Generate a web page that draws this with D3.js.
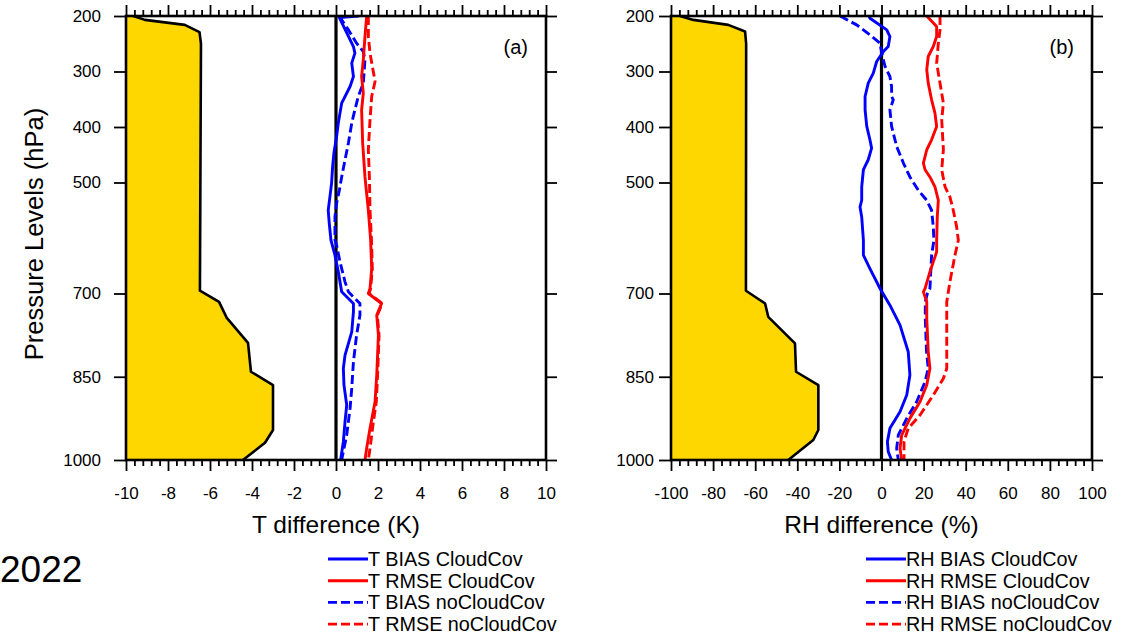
<!DOCTYPE html>
<html>
<head>
<meta charset="utf-8">
<script src="https://cdn.jsdelivr.net/npm/d3@7"></script>
<style>
  html, body { margin: 0; padding: 0; background: #fff; }
  svg { display: block; font-family: "Liberation Sans", Arial, Helvetica, sans-serif; }
</style>
</head>
<body>
<svg id="chart" width="1130" height="634"></svg>
<script>
// Pressure levels shown on the vertical axis (hPa)
const pressureTicks = [200, 300, 400, 500, 700, 850, 1000];

// x-axis tick labels
const tTicks = [-10, -8, -6, -4, -2, 0, 2, 4, 6, 8, 10];
const rhTicks = [-100, -80, -60, -40, -20, 0, 20, 40, 60, 80, 100];

// Shaded profile, [pressure, value]
const shadeT = [[200,-9.65],[207,-9.1],[216,-7.2],[229,-6.5],[250,-6.43],[695,-6.48],[715,-5.57],[744,-5.2],[789,-4.19],[841,-4.05],[865,-3.0],[946,-3.0],[969,-3.38],[1000,-4.43]];
const shadeRH = [[200,-95.7],[207,-89.4],[216,-72.8],[228,-64.8],[250,-64.3],[695,-64.4],[718,-55.3],[742,-53.8],[790,-41.1],[841,-40.6],[865,-30.0],[946,-30.0],[964,-32.4],[1000,-44.3]];

// Temperature statistics (K), [pressure, value]
const tBiasCloud = [[200,1.1],[203,0.16],[255,0.83],[267,0.90],[285,0.75],[309,0.83],[327,0.67],[345,0.43],[357,0.27],[375,0.19],[393,0.11],[417,0.03],[447,-0.10],[471,-0.16],[501,-0.21],[526,-0.29],[550,-0.37],[574,-0.32],[604,-0.24],[631,-0.05],[661,0.11],[697,0.27],[718,0.83],[733,0.83],[769,0.75],[811,0.43],[835,0.35],[865,0.38],[901,0.51],[931,0.43],[967,0.35],[1000,0.22]];
const tRmseCloud = [[200,1.46],[237,1.38],[279,1.30],[309,1.22],[339,1.30],[369,1.22],[429,1.27],[490,1.38],[550,1.54],[604,1.65],[655,1.70],[691,1.62],[700,1.54],[718,2.17],[739,1.94],[775,2.02],[847,1.94],[895,1.86],[943,1.62],[979,1.46],[1000,1.38]];
const tBiasNoCloud = [[200,0.15],[225,0.59],[249,0.98],[264,1.30],[279,1.38],[321,1.30],[345,1.06],[369,0.90],[393,0.75],[429,0.59],[459,0.43],[490,0.27],[514,0.16],[537,0.03],[562,-0.05],[604,-0.05],[613,0.03],[643,0.19],[679,0.43],[697,0.59],[718,1.14],[739,1.14],[775,0.98],[823,0.83],[871,0.75],[907,0.67],[955,0.51],[979,0.38],[1000,0.27]];
const tRmseNoCloud = [[200,1.54],[237,1.54],[267,1.62],[318,1.86],[345,1.70],[387,1.62],[441,1.54],[490,1.59],[550,1.62],[604,1.69],[655,1.73],[691,1.65],[700,1.57],[718,2.20],[739,1.97],[775,2.05],[847,1.98],[895,1.92],[931,1.78],[979,1.62],[1000,1.54]];

// Relative humidity statistics (%), [pressure, value]
const rhBiasCloud = [[200,-6.0],[204,-5.5],[225,2.5],[237,4.0],[255,3.2],[264,0.9],[273,-0.7],[282,-2.3],[303,-3.9],[321,-6.3],[345,-7.8],[369,-7.8],[399,-7.0],[423,-5.5],[438,-4.7],[459,-6.3],[477,-8.6],[508,-9.4],[532,-9.4],[544,-10.2],[562,-9.4],[604,-8.6],[631,-8.6],[655,-5.5],[691,-0.7],[721,4.0],[757,8.8],[805,12.7],[847,13.5],[883,12.0],[913,8.8],[943,4.0],[967,2.8],[985,3.2],[1000,4.8]];
const rhRmseCloud = [[200,21.5],[219,26.2],[237,26.2],[255,24.6],[273,22.2],[297,21.5],[321,22.2],[351,23.8],[375,25.4],[399,26.2],[423,23.8],[441,21.5],[465,19.9],[477,20.7],[490,23.0],[508,25.4],[532,27.0],[562,26.5],[604,26.2],[625,26.2],[661,23.0],[691,20.7],[697,19.9],[715,21.5],[745,21.5],[805,22.2],[835,23.0],[865,21.5],[895,18.3],[925,13.5],[955,9.6],[979,8.8],[1000,9.6]];
const rhBiasNoCloud = [[200,-19.7],[216,-11.8],[234,-5.5],[249,-0.7],[267,0.1],[291,1.7],[309,4.0],[327,4.8],[345,4.8],[351,5.6],[369,4.0],[399,4.8],[435,7.2],[465,10.4],[490,13.5],[514,17.5],[532,21.5],[550,23.8],[580,24.6],[604,24.9],[631,23.8],[691,23.0],[700,21.8],[715,20.8],[745,20.8],[805,21.4],[835,22.2],[859,20.7],[895,16.7],[925,12.0],[955,8.0],[979,7.2],[1000,8.0]];
const rhRmseNoCloud = [[200,27.8],[225,27.8],[249,27.0],[285,26.2],[321,27.8],[357,29.4],[387,28.6],[441,29.4],[477,28.6],[508,30.2],[526,32.5],[550,34.1],[580,35.7],[604,36.5],[631,34.9],[679,32.5],[715,31.0],[757,31.0],[835,31.0],[853,29.4],[883,24.6],[919,18.3],[943,12.7],[967,10.7],[1000,10.7]];

const svg = d3.select("#chart");
const yTop = 16, yBottom = 460;
const y = d3.scaleLinear().domain([200, 1000]).range([yTop, yBottom]);

const BLUE = "#0000ff", RED = "#ff0000", GOLD = "#ffd700";
const plain = d => String(d);

function drawPanel(opts) {
  const x = d3.scaleLinear().domain(opts.domain).range([opts.left, opts.right]);
  const g = svg.append("g");
  const clipId = "clip-" + opts.id;
  svg.append("clipPath").attr("id", clipId)
    .append("rect").attr("x", opts.left).attr("y", yTop)
    .attr("width", opts.right - opts.left).attr("height", yBottom - yTop);

  const plot = g.append("g").attr("clip-path", `url(#${clipId})`);

  // shaded profile filled from the left edge
  const area = d3.area().y(d => y(d[0])).x0(x(opts.domain[0])).x1(d => x(d[1]));
  plot.append("path").datum(opts.shade).attr("d", area).attr("fill", GOLD);
  plot.append("path").datum(opts.shade)
    .attr("d", d3.line().x(d => x(d[1])).y(d => y(d[0])))
    .attr("fill", "none").attr("stroke", "#000").attr("stroke-width", 2.6)
    .attr("stroke-linejoin", "round");

  // zero reference line
  plot.append("line").attr("x1", x(0)).attr("x2", x(0)).attr("y1", yTop).attr("y2", yBottom)
    .attr("stroke", "#000").attr("stroke-width", 3.2);

  // profiles: dashed runs underneath, solid runs on top
  const line = d3.line().x(d => x(d[1])).y(d => y(d[0]));
  const drawOrder = [2, 3, 0, 1];
  drawOrder.forEach(k => {
    const s = opts.series[k];
    plot.append("path").datum(s.data).attr("d", line)
      .attr("fill", "none").attr("stroke", s.color).attr("stroke-width", 2.9)
      .attr("stroke-linejoin", "round")
      .attr("stroke-dasharray", s.dash ? "9,4" : null);
  });

  // axes
  const majors = opts.ticks;
  const step = (majors[1] - majors[0]) / 5;
  const minors = d3.range(opts.domain[0], opts.domain[1] + step / 2, step)
    .filter(v => !majors.some(m => Math.abs(m - v) < step / 10));

  const axisStyle = sel => {
    sel.select(".domain").remove();
    sel.selectAll("line").attr("stroke", "#000").attr("stroke-width", 1.8);
    sel.selectAll("text").attr("fill", "#000").attr("font-size", 17)
      .attr("font-family", "Liberation Sans, Arial, sans-serif");
  };

  g.append("g").attr("transform", `translate(0,${yBottom})`)
    .call(d3.axisBottom(x).tickValues(majors).tickSize(11).tickPadding(16).tickFormat(plain))
    .call(axisStyle);
  g.append("g").attr("transform", `translate(0,${yBottom})`)
    .call(d3.axisBottom(x).tickValues(minors).tickSize(6).tickFormat(""))
    .call(axisStyle);
  g.append("g").attr("transform", `translate(0,${yTop})`)
    .call(d3.axisTop(x).tickValues(majors).tickSize(11).tickFormat(""))
    .call(axisStyle);
  g.append("g").attr("transform", `translate(0,${yTop})`)
    .call(d3.axisTop(x).tickValues(minors).tickSize(6).tickFormat(""))
    .call(axisStyle);
  g.append("g").attr("transform", `translate(${opts.left},0)`)
    .call(d3.axisLeft(y).tickValues(pressureTicks).tickSize(12).tickPadding(opts.yPad).tickFormat(plain))
    .call(axisStyle);
  g.append("g").attr("transform", `translate(${opts.right},0)`)
    .call(d3.axisRight(y).tickValues(pressureTicks).tickSize(11).tickFormat(""))
    .call(axisStyle);

  // frame
  g.append("rect").attr("x", opts.left).attr("y", yTop)
    .attr("width", opts.right - opts.left).attr("height", yBottom - yTop)
    .attr("fill", "none").attr("stroke", "#000").attr("stroke-width", 2.6);

  // panel tag
  g.append("text").attr("x", opts.right - 18).attr("y", 54).attr("text-anchor", "end")
    .attr("font-size", 20).text(opts.tag);

  // x-axis title
  g.append("text").attr("x", x(0)).attr("y", 533).attr("text-anchor", "middle")
    .attr("font-size", 24.5).text(opts.xTitle);

  // legend
  const lg = g.append("g");
  opts.series.forEach((s, i) => {
    const ly = 559 + i * 21.7;
    lg.append("line").attr("x1", opts.legendX).attr("x2", opts.legendX + 40)
      .attr("y1", ly).attr("y2", ly).attr("stroke", s.color).attr("stroke-width", 2.9)
      .attr("stroke-dasharray", s.dash ? "9,4" : null);
    lg.append("text").attr("x", opts.legendX + 40).attr("y", ly)
      .attr("dominant-baseline", "central").attr("font-size", 19.8).text(s.label);
  });
}

drawPanel({
  id: "t", left: 126, right: 546, domain: [-10, 10], ticks: tTicks, shade: shadeT,
  tag: "(a)", xTitle: "T difference (K)", legendX: 328, yPad: 13,
  series: [
    { data: tBiasCloud, color: BLUE, dash: false, label: "T BIAS CloudCov" },
    { data: tRmseCloud, color: RED, dash: false, label: "T RMSE CloudCov" },
    { data: tBiasNoCloud, color: BLUE, dash: true, label: "T BIAS noCloudCov" },
    { data: tRmseNoCloud, color: RED, dash: true, label: "T RMSE noCloudCov" }
  ]
});

drawPanel({
  id: "rh", left: 671, right: 1092, domain: [-100, 100], ticks: rhTicks, shade: shadeRH,
  tag: "(b)", xTitle: "RH difference (%)", legendX: 866, yPad: 5,
  series: [
    { data: rhBiasCloud, color: BLUE, dash: false, label: "RH BIAS CloudCov" },
    { data: rhRmseCloud, color: RED, dash: false, label: "RH RMSE CloudCov" },
    { data: rhBiasNoCloud, color: BLUE, dash: true, label: "RH BIAS noCloudCov" },
    { data: rhRmseNoCloud, color: RED, dash: true, label: "RH RMSE noCloudCov" }
  ]
});

// y-axis title
svg.append("text").attr("transform", `translate(43,${(yTop + yBottom) / 2 - 4}) rotate(-90)`)
  .attr("text-anchor", "middle").attr("font-size", 25.5).text("Pressure Levels (hPa)");

// year caption
svg.append("text").attr("x", 0).attr("y", 582).attr("font-size", 37).text("2022");
</script>
</body>
</html>
